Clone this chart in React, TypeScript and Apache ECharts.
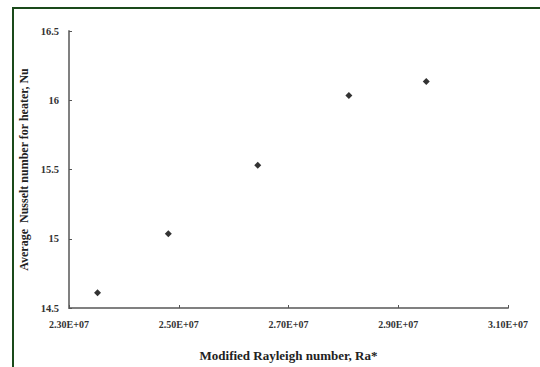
import React, { useEffect, useRef } from "react";
import * as echarts from "echarts";

const raValues = [2.352e7, 2.481e7, 2.644e7, 2.81e7, 2.951e7];
const nuValues = [14.61, 15.036, 15.531, 16.034, 16.136];
const xTitle = "Modified Rayleigh number, Ra*";
const yTitle = "Average  Nusselt number for heater, Nu";

function sci(v: number): string {
  if (v === 0) return "0.00E+00";
  const e = Math.floor(Math.log10(Math.abs(v)) + 1e-9);
  const m = v / Math.pow(10, e);
  const es = (e < 0 ? "-" : "+") + String(Math.abs(e)).padStart(2, "0");
  return m.toFixed(2) + "E" + es;
}

export default function App() {
  const ref = useRef<HTMLDivElement>(null);
  useEffect(() => {
    if (!ref.current) return;
    const chart = echarts.init(ref.current, undefined, { renderer: "svg" });
    const font = "'Liberation Serif', 'Times New Roman', serif";
    chart.setOption({
      animation: false,
      backgroundColor: "#ffffff",
      textStyle: { fontFamily: font },
      grid: { left: 69, top: 31, right: 32, bottom: 56, containLabel: false },
      xAxis: {
        type: "value",
        min: 2.3e7,
        max: 3.1e7,
        interval: 0.2e7,
        name: xTitle,
        nameLocation: "middle",
        nameGap: 41,
        nameTextStyle: { fontFamily: font, fontWeight: "bold", fontSize: 13, color: "#222" },
        axisLine: { show: true, lineStyle: { color: "#808080", width: 2 } },
        axisTick: { show: true, inside: true, length: 3, lineStyle: { color: "#555", width: 1 } },
        axisLabel: { formatter: (v: number) => sci(v), fontFamily: font, fontWeight: "bold", fontSize: 10, color: "#333", margin: 11 },
        splitLine: { show: false },
      },
      yAxis: {
        type: "value",
        min: 14.5,
        max: 16.5,
        interval: 0.5,
        name: yTitle,
        nameLocation: "middle",
        nameGap: 30,
        nameTextStyle: { fontFamily: font, fontWeight: "bold", fontSize: 12, color: "#222" },
        axisLine: { show: true, onZero: false, lineStyle: { color: "#808080", width: 2 } },
        axisTick: { show: true, inside: true, length: 3, lineStyle: { color: "#555", width: 1 } },
        axisLabel: { fontFamily: font, fontWeight: "bold", fontSize: 10.5, color: "#333", margin: 10 },
        splitLine: { show: false },
      },
      series: [
        {
          type: "scatter",
          symbol: "diamond",
          symbolSize: 7,
          itemStyle: { color: "#000" },
          data: raValues.map((x, i) => [x, nuValues[i]]),
        },
      ],
      graphic: [
        {
          type: "rect",
          shape: { x: 13, y: 8, width: 700, height: 500 },
          style: { fill: "none", stroke: "#1a4a1a", lineWidth: 2 },
          silent: true,
        },
      ],
    });
    return () => chart.dispose();
  }, []);
  return (
    <div
      ref={ref}
      style={{ position: "absolute", left: 0, top: 0, width: 540, height: 367 }}
    />
  );
}
